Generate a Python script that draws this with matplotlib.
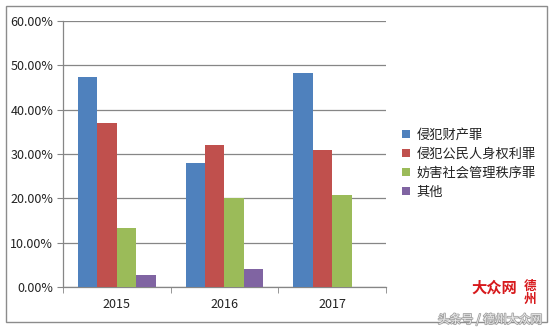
import matplotlib
matplotlib.use("Agg")
import matplotlib.pyplot as plt
import matplotlib.patheffects as pe
import numpy as np
from matplotlib.patches import Rectangle
from matplotlib.ticker import FuncFormatter, MultipleLocator

plt.rcParams["font.family"] = ["Noto Sans CJK SC", "DejaVu Sans"]

years = ["2015", "2016", "2017"]
series = ["侵犯财产罪", "侵犯公民人身权利罪", "妨害社会管理秩序罪", "其他"]
property_crime = [47.4, 27.9, 48.3]
personal_rights = [36.9, 32.0, 30.9]
social_order = [13.2, 20.0, 20.8]
other = [2.6, 4.0, 0.0]
values = [property_crime, personal_rights, social_order, other]
colors = ["#4F81BD", "#C0504D", "#9BBB59", "#8064A2"]

fig = plt.figure(figsize=(5.5, 3.29), dpi=100)
fig.patch.set_facecolor("white")
ax = fig.add_axes([0.1145, 0.1277, 0.5873, 0.8085])

x = np.arange(len(years))
w = 0.18
for i, (vals, name, c) in enumerate(zip(values, series, colors)):
    ax.bar(x + (i - 1.5) * w, vals, width=w, color=c, label=name, zorder=3)

ax.set_xlim(-0.5, len(years) - 0.5)
ax.set_ylim(0, 60)
ax.yaxis.set_major_locator(MultipleLocator(10))
ax.yaxis.set_major_formatter(FuncFormatter(lambda v, p: f"{v:.2f}%"))
ax.set_xticks(x)
ax.set_xticklabels(years)
ax.tick_params(axis="x", length=0, pad=8, labelsize=9, colors="#222222")
ax.set_xticks(np.arange(len(years) + 1) - 0.5, minor=True)
ax.tick_params(axis="x", which="minor", length=4, direction="out", color="#868686")
ax.tick_params(axis="y", length=4, direction="out", color="#868686",
               labelsize=9, labelcolor="#222222", pad=3)
ax.yaxis.grid(True, color="#868686", linewidth=0.9, zorder=0)
for s in ["top", "right"]:
    ax.spines[s].set_visible(False)
for s in ["left", "bottom"]:
    ax.spines[s].set_color("#868686")
    ax.spines[s].set_linewidth(0.9)

leg = fig.legend(loc="upper left", bbox_to_anchor=(0.71, 0.645), frameon=False,
                 prop={"size": 9.5}, handlelength=0.6, handleheight=0.6,
                 handletextpad=0.5, labelspacing=0.45)
for t in leg.get_texts():
    t.set_color("#222222")

# outer chart frame
fig.patches.append(Rectangle((6 / 550, 7 / 329), 541 / 550, 316 / 329,
                             transform=fig.transFigure, fill=False,
                             edgecolor="#8c8c8c", linewidth=1.0))

# corner logo and source mark
fig.text(0.94, 0.125, "大众网", color="#d7191c", fontsize=11, fontweight="bold",
         style="italic", ha="right", va="center")
fig.text(0.963, 0.11, "德\n州", color="#d7191c", fontsize=9, fontweight="bold",
         ha="center", va="center", linespacing=0.95)
fig.text(0.985, 0.028, "头条号 / 德州大众网", color="#f4f4f4", fontsize=8.5,
         ha="right", va="center", alpha=0.9,
         path_effects=[pe.withStroke(linewidth=1.2, foreground="#9a9a9a")])

fig.savefig("out.png", dpi=100, facecolor="white")
